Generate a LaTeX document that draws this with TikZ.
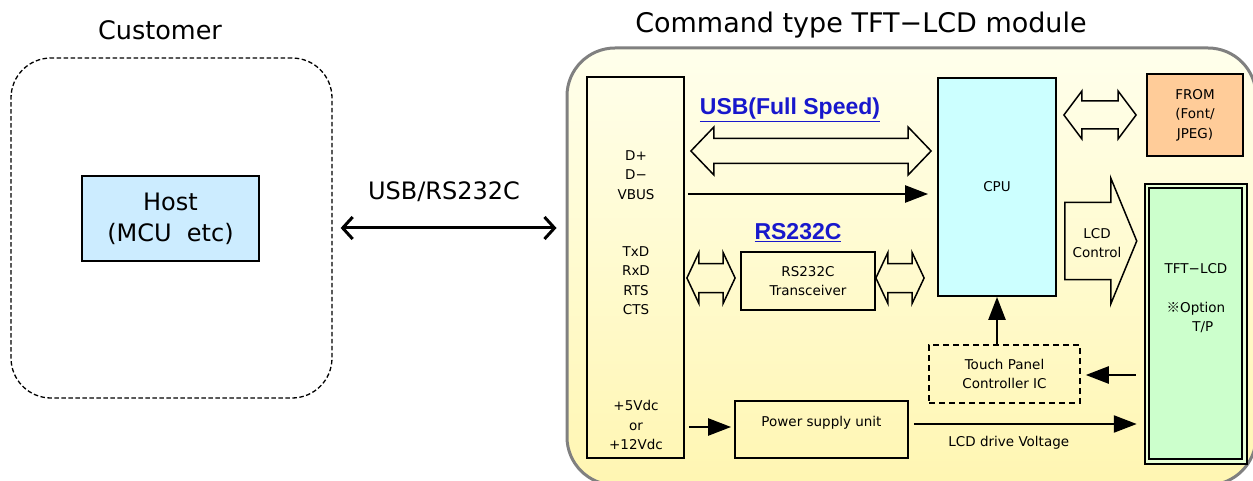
\documentclass[tikz,border=0pt]{standalone}
\usepackage{fontspec}
\setmainfont{DejaVu Sans}
\newfontfamily\labelfont{Liberation Sans}
\newfontfamily\jpfont{Noto Sans CJK JP}
\usetikzlibrary{arrows.meta,calc}

\definecolor{hostblue}{RGB}{204,236,255}
\definecolor{cpucyan}{RGB}{204,255,255}
\definecolor{flashorange}{RGB}{255,204,153}
\definecolor{tftgreen}{RGB}{204,255,204}
\definecolor{tftgap}{RGB}{232,255,214}
\definecolor{linkblue}{RGB}{24,24,204}
\definecolor{modtop}{RGB}{255,255,236}
\definecolor{modbottom}{RGB}{255,246,178}

\newcommand{\sigfont}{\fontsize{13.5}{19.5}\selectfont}

% hollow double arrow: from, to, half shaft, half head, head length
\newcommand{\hollowtwo}[5]{%
  \draw[hollow] let \p1=(#1), \p2=(#2) in
    (\x1,\y1) -- (\x1+#5,\y1+#4) -- (\x1+#5,\y1+#3) -- (\x2-#5,\y1+#3)
    -- (\x2-#5,\y1+#4) -- (\x2,\y1) -- (\x2-#5,\y1-#4) -- (\x2-#5,\y1-#3)
    -- (\x1+#5,\y1-#3) -- (\x1+#5,\y1-#4) -- cycle;}

\tikzset{
  box/.style={draw, line width=1.8pt, inner sep=0pt, align=center, font=\sigfont},
  feed/.style={line width=2.4pt, -{Triangle[length=23pt,width=17pt]}},
  hollow/.style={line width=1.5pt, line join=miter},
  bustitle/.style={font=\labelfont\bfseries\fontsize{23}{28}\selectfont, text=linkblue},
}

\begin{document}
\begin{tikzpicture}[x=1pt, y=1pt]
  \useasboundingbox (0,0) rectangle (1253,-481);

  % customer side
  \node[font=\fontsize{25.5}{30}\selectfont] (custtitle) at (160,-30) {Customer};
  \node[draw, line width=1.3pt, dash pattern=on 4.5pt off 2.5pt, rounded corners=40pt,
        minimum width=321pt, minimum height=340pt] (customer) at (171.5,-228) {};
  \node[draw, line width=1.5pt, fill=hostblue, minimum width=177pt, minimum height=85pt,
        align=center, font=\fontsize{24}{31}\selectfont] (host) at (170.5,-218.5) {Host\\(MCU\ \ etc)};

  % module frame
  \node[font=\fontsize{27}{32}\selectfont] (modtitle) at (861,-25) {Command type TFT−LCD module};
  \node[draw=gray, line width=3pt, rounded corners=48pt, top color=modtop, bottom color=modbottom,
        minimum width=689pt, minimum height=437pt] (module) at (911.5,-266.5) {};

  \node[font=\fontsize{24}{28}\selectfont] (linklabel) at (444,-192) {USB/RS232C};
  \draw[line width=3pt, {Straight Barb[length=10pt,width=22pt]}-{Straight Barb[length=10pt,width=22pt]},
        shorten <=8pt, shorten >=9pt] (customer.east) -- (module.west |- customer.east);

  % interface column
  \node[box, minimum width=97pt, minimum height=381pt] (col) at (635.5,-267.5) {};
  \node[font=\sigfont, align=center] (usbsig) at (636,-175) {D+\\D−\\VBUS};
  \node[font=\sigfont, align=center] (rssig) at (636,-280.5) {TxD\\RxD\\RTS\\CTS};
  \node[font=\sigfont, align=center] (pwrsig) at (636,-425) {+5Vdc\\or\\+12Vdc};

  % blocks
  \node[box, fill=cpucyan, minimum width=118pt, minimum height=218pt] (cpu) at (997,-187) {CPU};
  \node[box, minimum width=134pt, minimum height=58pt] (xcvr) at (808,-281) {RS232C\\Transceiver};
  \node[box, fill=flashorange, minimum width=96pt, minimum height=82pt] (flash) at (1195,-115) {FROM\\(Font/\\JPEG)};
  \node[draw, line width=2pt, double=tftgap, double distance=2.5pt, fill=tftgreen, inner sep=0pt,
        outer sep=0pt, minimum width=97.5pt, minimum height=275.5pt] (tft) at (1195.5,-323.75) {};
  \node[font=\sigfont, align=center] (tftnote) at (1196,-298) {TFT−LCD\\[19.5pt]{\jpfont ※}Option\\\hspace*{1em}T/P};
  \node[box, line width=1.5pt, dash pattern=on 6pt off 4pt, minimum width=151pt, minimum height=58pt]
        (touch) at (1004.5,-374) {Touch Panel\\Controller IC};
  \node[box, minimum width=173pt, minimum height=57pt, text depth=17pt] (psu) at (821.5,-429.5) {Power supply unit};

  % bus labels
  \node[bustitle] (usblabel) at (790,-110) {\underline{USB(Full Speed)}};
  \node[bustitle] (rslabel) at (798,-233) {\underline{RS232C}};

  % hollow buses
  \hollowtwo{$(col.east|-0,-151)+(6,0)$}{$(cpu.west|-0,-151)+(-6,0)$}{12.5}{24}{23}
  \hollowtwo{$(col.east|-xcvr)+(2,3)$}{$(xcvr.west)+(-5,3)$}{14.5}{25.5}{12}
  \hollowtwo{$(xcvr.east)+(0,3)$}{$(cpu.west|-xcvr)+(-13,3)$}{14.5}{25.5}{12}
  \hollowtwo{$(cpu.east|-flash)+(7,0)$}{$(flash.west)+(-10,0)$}{14}{24}{18}
  \draw[hollow] let \p1=($(cpu.east|-0,-241)+(8,0)$), \p2=($(tft.west|-0,-241)+(-10,0)$) in
    (\x1,\y1+38.5) -- (\x2-26,\y1+38.5) -- (\x2-26,\y1+63) -- (\x2,\y1)
    -- (\x2-26,\y1-63) -- (\x2-26,\y1-38.5) -- (\x1,\y1-38.5) -- cycle;
  \node[font=\sigfont, align=center] (lcdctl) at (1097,-243) {LCD\\Control};

  % signal arrows
  \draw[feed, shorten <=3pt, shorten >=9pt] (col.east |- 0,-194) -- (cpu.west |- 0,-194);
  \draw[feed] (touch.north -| cpu.south) -- (cpu.south);
  \draw[feed, shorten <=11pt, shorten >=5pt] (tft.west |- 0,-375) -- (touch.east |- 0,-375);
  \draw[feed, shorten <=4pt, shorten >=3pt] (col.east |- 0,-427) -- (psu.west |- 0,-427);
  \draw[feed, shorten <=5pt, shorten >=10pt] (psu.east |- 0,-424) -- (tft.west |- 0,-424)
    node[pos=0.42, below=8pt, font=\sigfont] (drivelabel) {LCD drive Voltage};
\end{tikzpicture}
\end{document}
